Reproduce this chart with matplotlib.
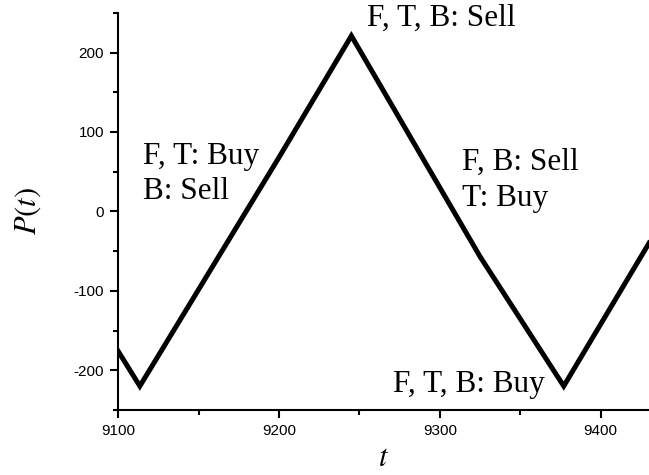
import numpy as np
import matplotlib.pyplot as plt
from matplotlib.ticker import MultipleLocator

plt.rcParams['mathtext.fontset'] = 'stix'
plt.rcParams['axes.unicode_minus'] = False

# Price path (turning points)
t = [9100, 9113.5, 9200, 9245, 9325, 9377, 9430]
P = [-176, -220, 68, 221, -57, -220, -40]

# Annotations: (x, y, text)
notes = [
    (9115.5, 47, "F, T: Buy\nB: Sell"),
    (9254.5, 243, "F, T, B: Sell"),
    (9313.5, 39, "F, B: Sell\nT: Buy"),
    (9271, -218, "F, T, B: Buy"),
]

fig = plt.figure(figsize=(6.49, 4.75), dpi=100)
ax = fig.add_axes([0.182, 0.137, 0.818, 0.836])

ax.plot(t, P, color='black', lw=3.6, solid_joinstyle='miter')

ax.set_xlim(9100, 9430)
ax.set_ylim(-250, 250)
ax.xaxis.set_major_locator(MultipleLocator(100))
ax.xaxis.set_minor_locator(MultipleLocator(50))
ax.yaxis.set_major_locator(MultipleLocator(100))
ax.yaxis.set_minor_locator(MultipleLocator(50))

for s in ['top', 'right']:
    ax.spines[s].set_visible(False)
for s in ['left', 'bottom']:
    ax.spines[s].set_linewidth(1.5)

ax.tick_params(which='major', direction='out', length=6, width=1.5,
               labelsize=11, pad=4)
ax.tick_params(which='minor', direction='out', length=3.5, width=1.5)
for lab in ax.get_xticklabels() + ax.get_yticklabels():
    lab.set_family('Liberation Sans')

for x, y, s in notes:
    ax.text(x, y, s, family='Liberation Serif', fontsize=22.5,
            ha='left', va='center', linespacing=1.3)

ax.set_xlabel("$t$", fontsize=22, labelpad=4)
ax.set_ylabel("$P(t)$", fontsize=22, labelpad=22)

fig.savefig('out.png', dpi=100)
